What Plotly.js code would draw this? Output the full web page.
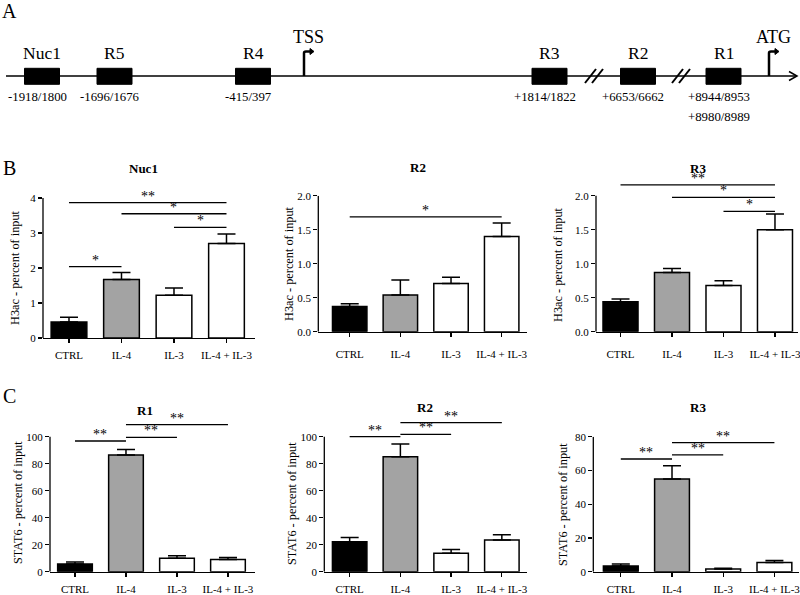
<!DOCTYPE html>
<html><head><meta charset="utf-8">
<script src="https://cdn.plot.ly/plotly-3.0.1.min.js"></script>
<style>html,body{margin:0;padding:0;background:#fff}#chart{width:800px;height:595px}</style>
</head><body><div id="chart"></div>
<script>
// ---------- DATA ----------
const groups = ['CTRL', 'IL-4', 'IL-3', 'IL-4 + IL-3'];
const barColors = ['#000000', '#a3a3a3', '#ffffff', '#ffffff'];
const noLowerErr = [0, 0, 0, 0];

// Panel B: H3ac - percent of input (mean, SEM)
const h3acNuc1 = [0.46, 1.67, 1.22, 2.70];
const h3acNuc1Sem = [0.13, 0.20, 0.21, 0.27];
const h3acR2 = [0.37, 0.54, 0.71, 1.40];
const h3acR2Sem = [0.04, 0.22, 0.09, 0.20];
const h3acR3 = [0.44, 0.87, 0.68, 1.50];
const h3acR3Sem = [0.04, 0.06, 0.07, 0.23];

// Panel C: STAT6 - percent of input (mean, SEM)
const stat6R1 = [5.7, 86.4, 9.9, 9.1];
const stat6R1Sem = [1.5, 4.2, 2.0, 1.5];
const stat6R2 = [22.2, 85.2, 13.6, 23.5];
const stat6R2Sem = [3.2, 9.4, 2.9, 3.9];
const stat6R3 = [3.4, 54.9, 1.6, 5.5];
const stat6R3Sem = [1.1, 7.9, 0.4, 1.2];

// Significance brackets: [from group, to group, height, label]
const sigH3acNuc1 = [[0, 1, 2.04, '*'], [0, 3, 3.87, '**'], [1, 3, 3.55, '*'], [2, 3, 3.16, '*']];
const sigH3acR2 = [[0, 3, 1.69, '*']];
const sigH3acR3 = [[0, 3, 2.16, '**'], [1, 3, 1.975, '*'], [2, 3, 1.77, '*']];
const sigStat6R1 = [[0, 1, 96.8, '**'], [1, 2, 99.5, '**'], [1, 3, 109, '**']];
const sigStat6R2 = [[0, 1, 100, '**'], [1, 2, 101.7, '**'], [1, 3, 110.4, '**']];
const sigStat6R3 = [[0, 1, 66.8, '**'], [1, 2, 69.2, '**'], [1, 3, 76.5, '**']];

// Tick labels
const ticksNuc1 = [0, 1, 2, 3, 4];
const tickTextNuc1 = ['0', '1', '2', '3', '4'];
const ticksH3ac = [0, 0.5, 1, 1.5, 2];
const tickTextH3ac = ['0.0', '0.5', '1.0', '1.5', '2.0'];
const ticksStat6 = [0, 20, 40, 60, 80, 100];
const tickTextStat6 = ['0', '20', '40', '60', '80', '100'];
const ticksStat6R3 = [0, 20, 40, 60, 80];
const tickTextStat6R3 = ['0', '20', '40', '60', '80'];

// Panel A: schematic of the locus
const regionNames = ['Nuc1', 'R5', 'R4', 'R3', 'R2', 'R1'];
const regionPos = [42, 114.5, 253, 549.5, 638, 723.5];
const regionCoords = [['-1918/1800'], ['-1696/1676'], ['-415/397'], ['+1814/1822'], ['+6653/6662'], ['+8944/8953', '+8980/8989']];
const landmarkNames = ['TSS', 'ATG'];
const landmarkPos = [304, 769];
const breakPos = [595, 682];

// ---------- LAYOUT HELPERS ----------
const W = 800, H = 595;
const px = x => x / W;
const py = y => 1 - y / H;
const FONT = 'Liberation Serif, Times New Roman, serif';

const panels = [
  {id: 1, vals: h3acNuc1, sem: h3acNuc1Sem, sig: sigH3acNuc1, ticks: ticksNuc1, tickText: tickTextNuc1,
   title: 'Nuc1', ytitle: 'H3ac - percent of input',
   xpx: [43, 255], ypx: [338, 198], xr: [-0.495, 3.543], yr: [0, 4], titlePx: [143, 168], ytPx: [15, 268], stand: 2},
  {id: 2, vals: h3acR2, sem: h3acR2Sem, sig: sigH3acR2, ticks: ticksH3ac, tickText: tickTextH3ac,
   title: 'R2', ytitle: 'H3ac - percent of input',
   xpx: [318.3, 527], ypx: [331.7, 195.7], xr: [-0.62, 3.50], yr: [0, 2], titlePx: [418, 167], ytPx: [289, 264], stand: 8},
  {id: 3, vals: h3acR3, sem: h3acR3Sem, sig: sigH3acR3, ticks: ticksH3ac, tickText: tickTextH3ac,
   title: 'R3', ytitle: 'H3ac - percent of input',
   xpx: [596, 798], ypx: [331.7, 182.1], xr: [-0.476, 3.447], yr: [0, 2.2], titlePx: [698, 168], ytPx: [558, 265], stand: 8},
  {id: 4, vals: stat6R1, sem: stat6R1Sem, sig: sigStat6R1, ticks: ticksStat6, tickText: tickTextStat6,
   title: 'R1', ytitle: 'STAT6 - percent of input',
   xpx: [50, 255], ypx: [571.7, 420.5], xr: [-0.49, 3.53], yr: [0, 112], titlePx: [145, 410], ytPx: [18, 503], stand: 3},
  {id: 5, vals: stat6R2, sem: stat6R2Sem, sig: sigStat6R2, ticks: ticksStat6, tickText: tickTextStat6,
   title: 'R2', ytitle: 'STAT6 - percent of input',
   xpx: [324.3, 526.7], ypx: [571.7, 419.1], xr: [-0.50, 3.49], yr: [0, 113], titlePx: [425, 407], ytPx: [292, 504], stand: 3},
  {id: 6, vals: stat6R3, sem: stat6R3Sem, sig: sigStat6R3, ticks: ticksStat6R3, tickText: tickTextStat6R3,
   title: 'R3', ytitle: 'STAT6 - percent of input',
   xpx: [593.3, 799], ypx: [571.7, 436.7], xr: [-0.537, 3.48], yr: [0, 80], titlePx: [698, 407], ytPx: [563, 505], stand: 3}
];

const traces = [];
const shapes = [];
const annotations = [];
const layout = {
  width: W, height: H,
  margin: {l: 0, r: 0, t: 0, b: 0},
  paper_bgcolor: '#ffffff', plot_bgcolor: 'rgba(0,0,0,0)',
  showlegend: false,
  font: {family: FONT, color: '#000000'},
  shapes: shapes, annotations: annotations
};

const LW = 1.3;
panels.forEach(p => {
  const xs = 'x' + p.id, ys = 'y' + p.id;
  traces.push({
    type: 'bar', x: groups, y: p.vals, xaxis: xs, yaxis: ys, width: 0.68,
    marker: {color: barColors, line: {color: '#000000', width: 1.5}},
    error_y: {type: 'data', symmetric: false, array: p.sem, arrayminus: noLowerErr,
              color: '#000000', thickness: 1.5, width: 9},
    hoverinfo: 'x+y'
  });
  layout['xaxis' + p.id] = {
    type: 'category', anchor: ys, domain: [px(p.xpx[0]), px(p.xpx[1])], range: p.xr,
    showline: true, linecolor: '#000000', linewidth: LW, ticks: 'outside', ticklen: 4,
    tickwidth: LW, tickcolor: '#000000', showgrid: false, zeroline: false,
    tickfont: {family: FONT, size: 11, color: '#000000'}, ticklabelstandoff: p.stand, fixedrange: true
  };
  layout['yaxis' + p.id] = {
    anchor: xs, domain: [py(p.ypx[0]), py(p.ypx[1])], range: p.yr,
    showline: false, ticks: 'outside', ticklen: 4, tickwidth: LW, tickcolor: '#000000',
    tickvals: p.ticks, ticktext: p.tickText, showgrid: false, zeroline: false,
    tickfont: {family: FONT, size: 11, color: '#000000'}, fixedrange: true
  };
  // y axis line up to the last tick
  shapes.push({type: 'line', xref: xs + ' domain', yref: ys, x0: 0, x1: 0, y0: 0,
               y1: p.ticks[p.ticks.length - 1], line: {color: '#000000', width: LW}});
  // significance brackets
  p.sig.forEach(s => {
    shapes.push({type: 'line', xref: xs, yref: ys, x0: s[0], x1: s[1], y0: s[2], y1: s[2],
                 line: {color: '#000000', width: LW}});
    annotations.push({xref: xs, yref: ys, x: (s[0] + s[1]) / 2, y: s[2], text: s[3],
                      showarrow: false, yanchor: 'bottom', yshift: -3,
                      font: {family: FONT, size: 14, color: '#000000'}});
  });
  // subplot title
  annotations.push({xref: 'paper', yref: 'paper', x: px(p.titlePx[0]), y: py(p.titlePx[1]),
                    text: '<b>' + p.title + '</b>', showarrow: false, xanchor: 'center', yanchor: 'middle',
                    font: {family: FONT, size: 13, color: '#000000'}});
  // y-axis title
  annotations.push({xref: 'paper', yref: 'paper', x: px(p.ytPx[0]), y: py(p.ytPx[1]),
                    text: p.ytitle, showarrow: false, textangle: -90, xanchor: 'center', yanchor: 'middle',
                    font: {family: FONT, size: 12.3, color: '#000000'}});
});

// ---------- PANEL A (schematic) ----------
traces.push({type: 'scatter', x: [], y: [], xaxis: 'x7', yaxis: 'y7', hoverinfo: 'skip', showlegend: false});
layout.xaxis7 = {domain: [0, 1], range: [0, 800], visible: false, anchor: 'y7', fixedrange: true};
layout.yaxis7 = {domain: [py(125), 1], range: [125, 0], visible: false, anchor: 'x7', fixedrange: true};
const A = {xref: 'x7', yref: 'y7'};
const lineY = 76;
shapes.push(Object.assign({type: 'line', x0: 6, x1: 797, y0: lineY, y1: lineY, line: {color: '#000', width: 1.5}}, A));
shapes.push(Object.assign({type: 'path', path: 'M789,71.5 L797,76 L789,80.5', line: {color: '#000', width: 1.5}}, A));
regionPos.forEach((x, i) => {
  shapes.push(Object.assign({type: 'rect', x0: x - 17.5, x1: x + 17.5, y0: 68.3, y1: 84.3,
                             fillcolor: '#000', line: {color: '#000', width: 1}}, A));
  annotations.push(Object.assign({x: x, y: 53, text: regionNames[i], showarrow: false,
                                  font: {family: FONT, size: 17.5, color: '#000'}}, A));
  regionCoords[i].forEach((t, j) => {
    annotations.push(Object.assign({x: x, y: 97 + j * 19.7, text: t, showarrow: false, xshift: -5,
                                    font: {family: FONT, size: 12.8, color: '#000'}}, A));
  });
});
breakPos.forEach(b => {
  shapes.push(Object.assign({type: 'line', x0: b - 10, y0: 83, x1: b + 1, y1: 69, line: {color: '#000', width: 2}}, A));
  shapes.push(Object.assign({type: 'line', x0: b - 3, y0: 83, x1: b + 8, y1: 69, line: {color: '#000', width: 2}}, A));
});
landmarkPos.forEach((x, i) => {
  shapes.push(Object.assign({type: 'path', path: `M${x},${lineY} L${x},53 Q${x},51.5 ${x + 2},51.5 L${x + 6},51.5`,
                             line: {color: '#000', width: 2.5}}, A));
  shapes.push(Object.assign({type: 'path', path: `M${x + 6},48.5 L${x + 10},51.5 L${x + 6},54.5 Z`,
                             fillcolor: '#000', line: {color: '#000', width: 1}}, A));
  annotations.push(Object.assign({x: x + 4, y: 37, text: landmarkNames[i], showarrow: false,
                                  font: {family: FONT, size: 18, color: '#000'}}, A));
});

// panel letters
[['A', 9, 11], ['B', 9, 168], ['C', 9, 396]].forEach(l => {
  annotations.push({xref: 'paper', yref: 'paper', x: px(l[1]), y: py(l[2]), text: l[0], showarrow: false,
                    xanchor: 'center', yanchor: 'middle', font: {family: FONT, size: 20, color: '#000'}});
});

Plotly.newPlot('chart', traces, layout, {displayModeBar: false, staticPlot: true});
</script>
</body></html>
